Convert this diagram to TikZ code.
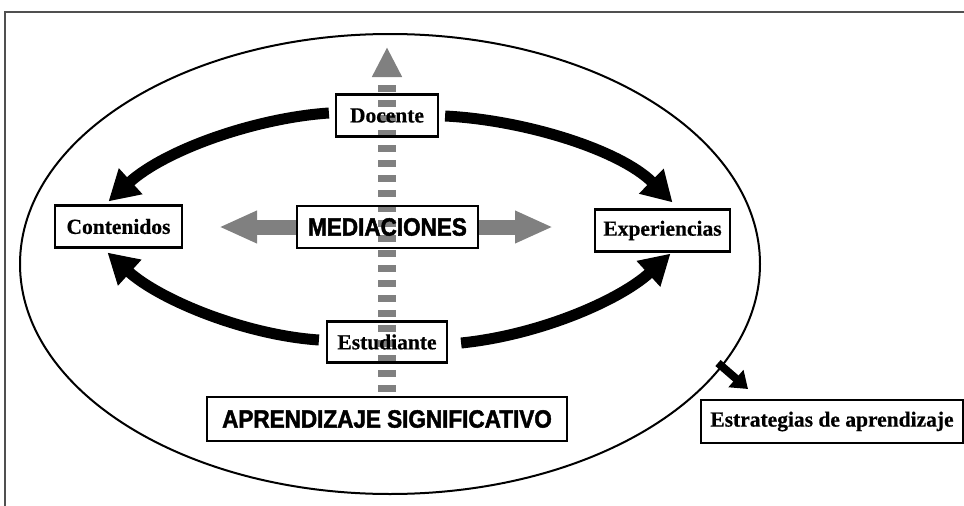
\documentclass[tikz,border=0pt]{standalone}
\usepackage{fontspec}
\setmainfont{Liberation Serif}[BoldFont={Liberation Serif Bold}, BoldFeatures={FakeBold=0.6}]
\newfontfamily\capsfont{Liberation Sans Bold}[FakeStretch=0.9, FakeBold=1.8]
\usetikzlibrary{arrows.meta,calc}
\definecolor{arrowgrey}{RGB}{128,128,128}
\definecolor{framegrey}{RGB}{80,80,80}
\pgfdeclarelayer{background}
\pgfsetlayers{background,main}
\begin{document}
\begin{tikzpicture}[x=1pt,y=-1pt,
  lbl/.style={draw=black, line width=2.2pt, minimum height=42pt, inner sep=0pt,
              font=\fontsize{21.5}{24}\selectfont\bfseries},
  caplbl/.style={lbl, font=\fontsize{25}{28}\selectfont\capsfont},
  flow/.style={line width=11pt, -{Triangle[width=33pt,length=30pt]}},
  greyarrow/.style={draw=arrowgrey, line width=15pt, -{Triangle[width=30pt,length=38pt]}},
  dasharrow/.style={draw=arrowgrey, line width=18pt, dash pattern=on 7pt off 8pt,
              -{Triangle[width=28pt,length=30pt]}},
  smallarrow/.style={line width=8pt, -{Triangle[width=22pt,length=16pt]}}
]
\useasboundingbox (0,0) rectangle (964,506);
% outer frame
\draw[framegrey, line width=2.5pt] (964,12) -- (5,12) -- (5,506);
% ellipse
\draw[line width=2pt] (390,264) ellipse [x radius=370, y radius=230];

% nodes
\node[lbl, minimum width=102pt] (doc) at (387,115.5) {Docente};
\node[lbl, minimum width=127pt] (cont) at (118.5,226.5) {Contenidos};
\node[caplbl, minimum width=181pt] (med) at (387.5,227) {MEDIACIONES};
\node[lbl, minimum width=135pt] (exp) at (662.5,230.5) {Experiencias};
\node[lbl, minimum width=120pt, minimum height=41pt] (estu) at (387,342) {Estudiante};
\node[caplbl, minimum width=360pt, minimum height=44pt] (apr) at (387,419) {APRENDIZAJE SIGNIFICATIVO};
\node[lbl, minimum width=262pt, minimum height=43pt] (estr) at (832,421.5) {Estrategias de aprendizaje};

% grey arrows behind
\coordinate (vtop) at (387,47);
\coordinate (hl) at (219,227);
\coordinate (hr) at (553,227);
\begin{pgfonlayer}{background}
  \draw[dasharrow] ($(apr.north)+(0,-4)$) -- (vtop);
  \draw[greyarrow] (med.west) -- (hl);
  \draw[greyarrow] (med.east) -- (hr);
\end{pgfonlayer}

% black curved arrows
\draw[flow] ($(doc.west)+(-6,-2.5)$) .. controls (255,118) and (165,150) .. ($(cont.north)+(-10,-3)$);
\draw[flow] ($(doc.east)+(6,0.5)$) .. controls (525,120) and (620,150) .. ($(exp.north)+(10,-6)$);
\draw[flow] ($(estu.west)+(-7,-2)$) .. controls (245,335) and (160,300) .. ($(cont.south)+(-11,4)$);
\draw[flow] ($(estu.east)+(13,1)$) .. controls (540,335) and (620,300) .. ($(exp.south)+(8,1)$);

% strategies arrow
\coordinate (ep) at (718,363);
\coordinate (et) at (748,389);
\draw[smallarrow] (ep) -- (et);
\end{tikzpicture}
\end{document}
